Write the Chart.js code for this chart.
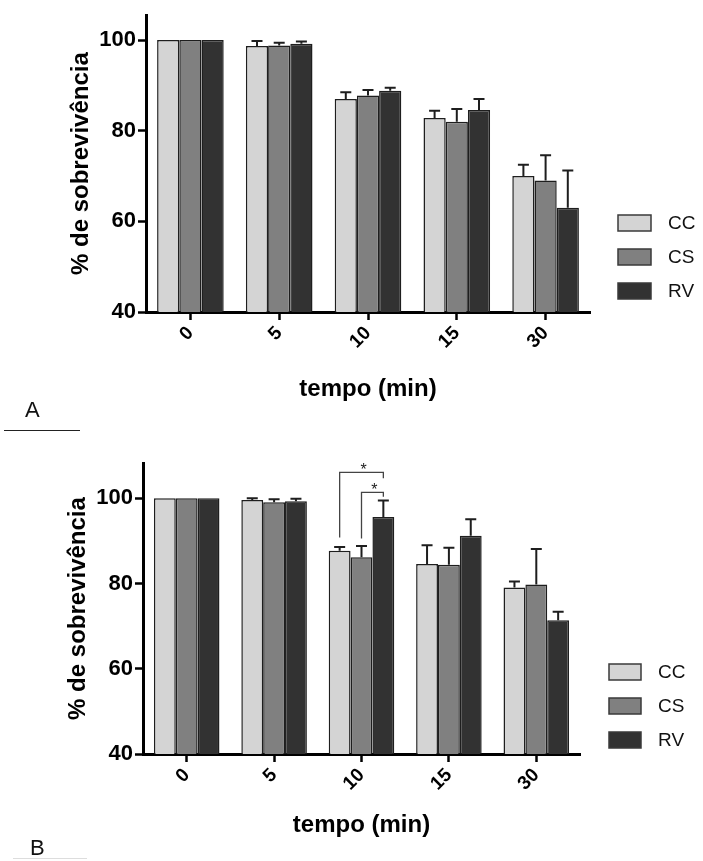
<!DOCTYPE html>
<html>
<head>
<meta charset="utf-8">
<script src="https://cdn.jsdelivr.net/npm/chart.js@4.4.0/dist/chart.umd.min.js"></script>
<style>
  body { margin: 0; background: #fff; width: 703px; height: 861px; position: relative; overflow: hidden; font-family: "Liberation Sans", Arial, sans-serif; }
  .box { position: absolute; left: 0; width: 703px; }
  #topBox { top: 0; height: 404px; }
  #botBox { top: 440px; height: 400px; }
  .panel { position: absolute; font-size: 22px; line-height: 22px; color: #111; }
</style>
</head>
<body>
<div id="topBox" class="box"><canvas id="chartA"></canvas></div>
<div id="botBox" class="box"><canvas id="chartB"></canvas></div>
<div class="panel" style="left:25px; top:399px;">A</div>
<div style="position:absolute; left:4px; top:430px; width:76px; border-top:1px solid #222;"></div>
<div class="panel" style="left:30px; top:837px;">B</div>
<div style="position:absolute; left:13px; top:858px; width:74px; border-top:1px solid #ddd;"></div>
<script>
// categories / ticks
const tempos = ['0', '5', '10', '15', '30'];
const yTicks = [40, 60, 80, 100];
const groups = ['CC', 'CS', 'RV'];
const colors = ['#d4d4d4', '#808080', '#323232'];

// panel A - mean survival (%) and upper error
const ccA = [100, 98.7, 87.0, 82.8, 70.0];
const csA = [100, 98.8, 87.8, 82.0, 69.0];
const rvA = [100, 99.2, 88.8, 84.6, 63.0];
const ccErrA = [0, 1.1, 1.5, 1.6, 2.5];
const csErrA = [0, 0.6, 1.2, 2.8, 5.6];
const rvErrA = [0, 0.5, 0.7, 2.4, 8.2];

// panel B
const ccB = [100, 99.6, 87.7, 84.6, 79.1];
const csB = [100, 99.1, 86.2, 84.4, 79.8];
const rvB = [100, 99.3, 95.6, 91.2, 71.4];
const ccErrB = [0, 0.4, 0.9, 4.4, 1.4];
const csErrB = [0, 0.7, 2.6, 4.0, 8.3];
const rvErrB = [0, 0.6, 3.9, 3.9, 2.0];

// significance brackets in panel B (category "10")
const sigCategory = 2;
const sigFrom = [0, 1];
const sigTo = [2, 2];
const sigTop = [106.1, 101.4];
const sigLeftEnd = [90.8, 90.6];
const sigRightEnd = [104.7, 100.4];

const FONT = '"Liberation Sans", Arial, sans-serif';
Chart.defaults.font.family = FONT;
Chart.defaults.color = '#000';

// upward SEM bars
const errorBars = {
  id: 'errorBars',
  afterDatasetsDraw(chart) {
    const { ctx } = chart;
    const y = chart.scales.y;
    ctx.save();
    ctx.strokeStyle = '#1e1e1e';
    ctx.lineWidth = 2;
    chart.data.datasets.forEach((ds, i) => {
      chart.getDatasetMeta(i).data.forEach((bar, j) => {
        const e = ds.errors[j];
        if (!e) return;
        const top = y.getPixelForValue(ds.data[j] + e);
        ctx.beginPath();
        ctx.moveTo(bar.x, bar.y);
        ctx.lineTo(bar.x, top);
        ctx.moveTo(bar.x - 5.5, top);
        ctx.lineTo(bar.x + 5.5, top);
        ctx.stroke();
      });
    });
    ctx.restore();
  }
};

// legend with boxes to the right of the plot
const boxLegend = {
  id: 'boxLegend',
  afterDraw(chart, args, opts) {
    const { ctx, chartArea } = chart;
    const x = chartArea.right + opts.dx;
    ctx.save();
    chart.data.datasets.forEach((ds, i) => {
      const top = chartArea.bottom - opts.dy + i * opts.gap;
      ctx.fillStyle = ds.backgroundColor;
      ctx.fillRect(x, top, opts.w, 16);
      ctx.strokeStyle = '#3a3a3a';
      ctx.lineWidth = 1.5;
      ctx.strokeRect(x, top, opts.w, 16);
      ctx.fillStyle = '#111';
      ctx.font = '19px ' + FONT;
      ctx.textBaseline = 'middle';
      ctx.fillText(ds.label, x + opts.w + 17, top + 8.5);
    });
    ctx.restore();
  }
};

const sigBrackets = {
  id: 'sigBrackets',
  afterDatasetsDraw(chart, args, opts) {
    if (!opts.show) return;
    const { ctx } = chart;
    const y = chart.scales.y;
    ctx.save();
    ctx.strokeStyle = '#444';
    ctx.lineWidth = 1.3;
    ctx.fillStyle = '#222';
    ctx.font = '16px ' + FONT;
    ctx.textAlign = 'center';
    ctx.textBaseline = 'alphabetic';
    sigFrom.forEach((f, k) => {
      const x1 = chart.getDatasetMeta(f).data[sigCategory].x;
      const x2 = chart.getDatasetMeta(sigTo[k]).data[sigCategory].x;
      const yt = y.getPixelForValue(sigTop[k]);
      ctx.beginPath();
      ctx.moveTo(x1, y.getPixelForValue(sigLeftEnd[k]));
      ctx.lineTo(x1, yt);
      ctx.lineTo(x2, yt);
      ctx.lineTo(x2, y.getPixelForValue(sigRightEnd[k]));
      ctx.stroke();
      ctx.fillText('*', (x1 + x2) / 2 + 2, yt + 3);
    });
    ctx.restore();
  }
};

function makeChart(id, series, errs, opt) {
  return new Chart(document.getElementById(id), {
    type: 'bar',
    data: {
      labels: tempos,
      datasets: groups.map((g, i) => ({
        label: g,
        data: series[i],
        errors: errs[i],
        backgroundColor: colors[i],
        borderColor: '#1e1e1e',
        borderWidth: 1.5,
        categoryPercentage: 0.75,
        barPercentage: 1
      }))
    },
    options: {
      responsive: true,
      maintainAspectRatio: false,
      animation: false,
      layout: { padding: opt.padding },
      plugins: {
        legend: { display: false },
        tooltip: { enabled: false },
        boxLegend: opt.legend,
        sigBrackets: { show: !!opt.sig }
      },
      scales: {
        x: {
          afterFit: s => { s.height = opt.xHeight; },
          border: { display: true, width: 3, color: '#000' },
          grid: { offset: false, drawOnChartArea: false, tickLength: 8, tickWidth: 2.5, tickColor: '#000' },
          ticks: { color: '#000', font: { size: 19, weight: 'bold' }, minRotation: 45, maxRotation: 45, padding: 2 },
          title: { display: true, text: 'tempo (min)', color: '#000', font: { size: 24, weight: 'bold' }, padding: 0 }
        },
        y: {
          min: 40,
          max: opt.yMax,
          afterBuildTicks: s => { s.ticks = yTicks.map(v => ({ value: v })); },
          afterFit: s => { s.width = 79; },
          border: { display: true, width: 3, color: '#000' },
          grid: { drawOnChartArea: false, tickLength: 8, tickWidth: 2.5, tickColor: '#000' },
          ticks: { color: '#000', font: { size: 22, weight: 'bold' }, padding: 2 },
          title: { display: true, text: '% de sobrevivência', color: '#000', font: { size: 24, weight: 'bold' }, padding: 0 }
        }
      }
    },
    plugins: [errorBars, boxLegend, sigBrackets]
  });
}

makeChart('chartA', [ccA, csA, rvA], [ccErrA, csErrA, rvErrA], {
  padding: { left: 67, top: 15, right: 113, bottom: 0 },
  xHeight: 92,
  yMax: 105.5,
  legend: { dx: 28, dy: 97, gap: 34, w: 33 }
});

makeChart('chartB', [ccB, csB, rvB], [ccErrB, csErrB, rvErrB], {
  padding: { left: 64, top: 23, right: 123, bottom: 0 },
  xHeight: 86,
  yMax: 108.3,
  legend: { dx: 29, dy: 90, gap: 34, w: 32 },
  sig: true
});
</script>
</body>
</html>
